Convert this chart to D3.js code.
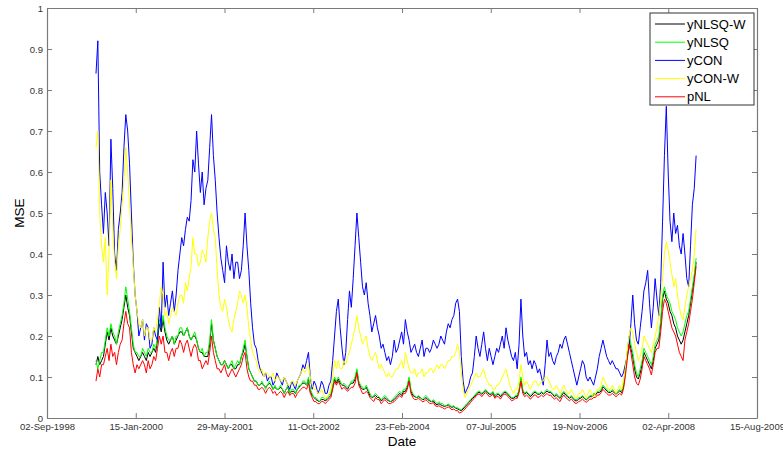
<!DOCTYPE html>
<html>
<head>
<meta charset="utf-8">
<script src="https://cdn.jsdelivr.net/npm/d3@7"></script>
<style>
  body { margin: 0; background: #fff; }
  text { font-family: "Liberation Sans", Arial, sans-serif; }
</style>
</head>
<body>
<svg id="chart" width="783" height="454"></svg>
<script>
// tick labels on the date axis, 500 days apart
const dateTicks = ['02-Sep-1998', '15-Jan-2000', '29-May-2001', '11-Oct-2002', '23-Feb-2004',
  '07-Jul-2005', '19-Nov-2006', '02-Apr-2008', '15-Aug-2009'];
const mseTicks = [0, 0.1, 0.2, 0.3, 0.4, 0.5, 0.6, 0.7, 0.8, 0.9, 1];

// samples every 10.5 days
const sampleStart = '1999-06-05';
const sampleStepHours = 252;

const yNLSQW = [
  0.13,0.15,0.13,0.14,0.15,0.18,0.21,0.19,0.22,0.20,0.19,0.18,0.20,0.22,0.24,0.27,0.30,0.27,0.25,0.21,
  0.17,0.16,0.15,0.14,0.15,0.16,0.15,0.14,0.16,0.15,0.16,0.17,0.16,0.19,0.23,0.21,0.24,0.21,0.19,0.18,
  0.19,0.20,0.18,0.19,0.20,0.21,0.21,0.20,0.21,0.22,0.20,0.19,0.20,0.20,0.19,0.17,0.16,0.16,0.15,0.15,
  0.15,0.18,0.23,0.19,0.17,0.15,0.14,0.13,0.13,0.14,0.13,0.12,0.13,0.13,0.12,0.12,0.13,0.13,0.15,0.16,
  0.18,0.15,0.12,0.11,0.10,0.09,0.09,0.08,0.08,0.085,0.08,0.075,0.08,0.085,0.08,0.07,0.075,0.07,0.07,0.075,
  0.07,0.06,0.07,0.075,0.06,0.065,0.065,0.06,0.07,0.075,0.08,0.085,0.085,0.08,0.095,0.065,0.055,0.05,0.045,0.042,
  0.04,0.045,0.045,0.042,0.045,0.05,0.055,0.075,0.095,0.085,0.095,0.085,0.08,0.08,0.075,0.07,0.08,0.085,0.085,0.095,
  0.115,0.085,0.075,0.07,0.07,0.075,0.065,0.055,0.05,0.052,0.055,0.05,0.05,0.042,0.045,0.05,0.045,0.042,0.04,0.042,
  0.045,0.05,0.055,0.06,0.055,0.065,0.065,0.075,0.095,0.065,0.055,0.052,0.05,0.052,0.05,0.045,0.045,0.05,0.045,0.042,
  0.04,0.042,0.035,0.032,0.035,0.032,0.03,0.028,0.03,0.032,0.028,0.026,0.028,0.024,0.022,0.02,0.018,0.022,0.028,0.032,
  0.038,0.042,0.048,0.052,0.058,0.062,0.062,0.058,0.062,0.066,0.062,0.058,0.058,0.062,0.052,0.056,0.058,0.052,0.058,0.062,
  0.062,0.058,0.052,0.048,0.048,0.052,0.052,0.066,0.095,0.066,0.058,0.062,0.058,0.052,0.056,0.062,0.062,0.058,0.058,0.062,
  0.058,0.062,0.066,0.062,0.062,0.058,0.052,0.056,0.052,0.048,0.056,0.062,0.056,0.052,0.048,0.052,0.048,0.042,0.042,0.046,
  0.048,0.052,0.048,0.044,0.048,0.052,0.052,0.056,0.056,0.062,0.062,0.066,0.076,0.072,0.066,0.062,0.062,0.066,0.062,0.058,
  0.062,0.066,0.062,0.076,0.115,0.15,0.19,0.17,0.15,0.12,0.10,0.095,0.11,0.13,0.16,0.15,0.14,0.13,0.12,0.14,
  0.17,0.18,0.19,0.23,0.29,0.31,0.29,0.28,0.26,0.25,0.23,0.22,0.20,0.19,0.18,0.19,0.21,0.23,0.25,0.28,
  0.31,0.34,0.38
];
const yNLSQ = [
  0.14,0.12,0.14,0.16,0.16,0.19,0.22,0.20,0.23,0.21,0.20,0.18,0.21,0.23,0.25,0.28,0.32,0.29,0.26,0.22,
  0.18,0.16,0.16,0.15,0.15,0.17,0.16,0.15,0.17,0.16,0.16,0.18,0.17,0.20,0.24,0.22,0.25,0.22,0.20,0.19,
  0.19,0.20,0.18,0.20,0.20,0.22,0.22,0.20,0.21,0.22,0.20,0.19,0.20,0.21,0.19,0.17,0.16,0.17,0.15,0.16,
  0.16,0.19,0.24,0.19,0.17,0.15,0.14,0.13,0.13,0.14,0.13,0.12,0.13,0.14,0.12,0.13,0.14,0.13,0.15,0.17,
  0.19,0.15,0.12,0.11,0.10,0.09,0.09,0.08,0.08,0.09,0.08,0.07,0.08,0.09,0.08,0.07,0.08,0.07,0.07,0.08,
  0.07,0.06,0.07,0.08,0.06,0.07,0.07,0.06,0.07,0.08,0.08,0.09,0.09,0.08,0.10,0.07,0.06,0.05,0.05,0.045,
  0.04,0.05,0.05,0.045,0.05,0.055,0.06,0.08,0.10,0.09,0.10,0.09,0.08,0.085,0.08,0.075,0.08,0.09,0.09,0.10,
  0.12,0.09,0.08,0.075,0.07,0.08,0.07,0.06,0.05,0.055,0.06,0.055,0.05,0.045,0.05,0.055,0.05,0.045,0.04,0.045,
  0.05,0.055,0.06,0.065,0.06,0.07,0.07,0.08,0.10,0.07,0.06,0.055,0.05,0.055,0.05,0.045,0.05,0.055,0.05,0.045,
  0.04,0.045,0.04,0.035,0.04,0.035,0.035,0.03,0.03,0.035,0.03,0.028,0.03,0.025,0.025,0.022,0.02,0.025,0.03,0.035,
  0.04,0.045,0.05,0.055,0.06,0.065,0.065,0.06,0.065,0.07,0.065,0.06,0.06,0.065,0.055,0.06,0.06,0.055,0.06,0.065,
  0.065,0.06,0.055,0.05,0.05,0.055,0.055,0.07,0.10,0.07,0.06,0.065,0.06,0.055,0.06,0.065,0.065,0.06,0.06,0.065,
  0.06,0.065,0.07,0.065,0.065,0.06,0.055,0.06,0.055,0.05,0.06,0.065,0.06,0.055,0.05,0.055,0.05,0.045,0.045,0.05,
  0.05,0.055,0.05,0.045,0.05,0.055,0.055,0.06,0.06,0.065,0.065,0.07,0.08,0.075,0.07,0.065,0.065,0.07,0.065,0.06,
  0.065,0.07,0.065,0.08,0.12,0.16,0.20,0.18,0.16,0.13,0.11,0.10,0.12,0.14,0.17,0.16,0.15,0.14,0.13,0.15,
  0.18,0.19,0.20,0.24,0.30,0.32,0.30,0.29,0.28,0.26,0.25,0.24,0.22,0.21,0.20,0.21,0.23,0.25,0.26,0.29,
  0.32,0.35,0.39
];
const yCON = [
  0.84,0.92,0.60,0.52,0.45,0.55,0.50,0.42,0.68,0.56,0.40,0.36,0.46,0.50,0.55,0.66,0.74,0.70,0.62,0.50,
  0.38,0.30,0.26,0.20,0.22,0.24,0.19,0.23,0.22,0.17,0.18,0.22,0.20,0.19,0.27,0.22,0.38,0.27,0.30,0.25,
  0.28,0.31,0.26,0.30,0.36,0.40,0.44,0.42,0.46,0.49,0.48,0.53,0.63,0.60,0.70,0.62,0.55,0.60,0.52,0.56,
  0.58,0.66,0.74,0.64,0.58,0.50,0.44,0.39,0.36,0.33,0.42,0.38,0.36,0.40,0.34,0.38,0.38,0.34,0.36,0.42,
  0.50,0.42,0.36,0.28,0.22,0.18,0.17,0.14,0.12,0.11,0.10,0.11,0.09,0.10,0.10,0.08,0.09,0.11,0.10,0.09,
  0.08,0.10,0.09,0.08,0.07,0.09,0.08,0.07,0.09,0.10,0.11,0.13,0.12,0.14,0.16,0.10,0.07,0.09,0.08,0.06,
  0.07,0.09,0.08,0.06,0.06,0.08,0.09,0.14,0.20,0.26,0.29,0.22,0.17,0.13,0.16,0.24,0.31,0.27,0.34,0.42,
  0.50,0.44,0.38,0.32,0.30,0.33,0.28,0.25,0.21,0.23,0.25,0.22,0.20,0.17,0.18,0.16,0.14,0.15,0.13,0.15,
  0.19,0.16,0.17,0.19,0.21,0.18,0.24,0.21,0.19,0.16,0.17,0.18,0.16,0.15,0.17,0.19,0.15,0.17,0.17,0.16,
  0.17,0.19,0.18,0.17,0.18,0.20,0.19,0.18,0.21,0.23,0.22,0.24,0.25,0.28,0.29,0.26,0.15,0.09,0.06,0.07,
  0.08,0.10,0.11,0.15,0.20,0.17,0.15,0.18,0.21,0.17,0.14,0.17,0.15,0.13,0.15,0.17,0.16,0.18,0.20,0.17,
  0.22,0.19,0.17,0.15,0.14,0.16,0.12,0.18,0.29,0.20,0.15,0.16,0.13,0.14,0.12,0.14,0.13,0.11,0.12,0.10,
  0.08,0.13,0.19,0.15,0.16,0.14,0.13,0.15,0.16,0.18,0.17,0.19,0.20,0.18,0.16,0.14,0.12,0.10,0.08,0.10,
  0.12,0.14,0.13,0.10,0.09,0.10,0.09,0.08,0.10,0.12,0.15,0.17,0.19,0.17,0.15,0.14,0.13,0.14,0.13,0.12,
  0.12,0.11,0.10,0.11,0.13,0.15,0.17,0.23,0.30,0.23,0.19,0.18,0.22,0.26,0.31,0.33,0.36,0.28,0.22,0.27,
  0.34,0.29,0.25,0.33,0.48,0.64,0.76,0.60,0.48,0.43,0.50,0.45,0.47,0.42,0.40,0.45,0.40,0.34,0.32,0.42,
  0.52,0.56,0.64
];
const yCONW = [
  0.66,0.70,0.50,0.42,0.38,0.44,0.30,0.40,0.58,0.46,0.38,0.34,0.42,0.46,0.52,0.58,0.66,0.60,0.52,0.44,
  0.37,0.30,0.26,0.23,0.22,0.24,0.20,0.22,0.22,0.19,0.19,0.22,0.21,0.24,0.28,0.32,0.30,0.25,0.26,0.23,
  0.25,0.27,0.26,0.25,0.28,0.30,0.30,0.28,0.33,0.31,0.34,0.37,0.44,0.40,0.40,0.37,0.38,0.41,0.40,0.38,
  0.44,0.48,0.50,0.46,0.44,0.36,0.30,0.27,0.26,0.29,0.27,0.24,0.22,0.21,0.24,0.26,0.28,0.31,0.30,0.28,
  0.30,0.27,0.22,0.19,0.16,0.15,0.14,0.12,0.11,0.12,0.10,0.11,0.11,0.10,0.10,0.11,0.09,0.10,0.10,0.09,
  0.09,0.10,0.09,0.08,0.08,0.09,0.09,0.08,0.09,0.10,0.11,0.12,0.11,0.12,0.13,0.10,0.08,0.07,0.07,0.06,
  0.06,0.07,0.06,0.05,0.05,0.06,0.07,0.10,0.14,0.12,0.14,0.12,0.12,0.14,0.13,0.15,0.16,0.18,0.20,0.22,
  0.25,0.22,0.20,0.18,0.19,0.20,0.17,0.15,0.14,0.15,0.16,0.14,0.12,0.13,0.12,0.11,0.10,0.11,0.10,0.10,
  0.11,0.12,0.12,0.13,0.14,0.12,0.16,0.14,0.12,0.11,0.11,0.12,0.10,0.11,0.11,0.12,0.10,0.11,0.11,0.12,
  0.12,0.11,0.12,0.13,0.12,0.13,0.13,0.12,0.13,0.14,0.14,0.15,0.15,0.16,0.18,0.16,0.11,0.07,0.05,0.06,
  0.07,0.08,0.09,0.10,0.11,0.10,0.10,0.11,0.12,0.10,0.09,0.08,0.08,0.07,0.07,0.08,0.08,0.09,0.10,0.11,
  0.12,0.10,0.08,0.07,0.06,0.07,0.07,0.09,0.13,0.10,0.08,0.09,0.08,0.07,0.08,0.09,0.09,0.08,0.08,0.09,
  0.09,0.10,0.10,0.09,0.08,0.07,0.07,0.08,0.07,0.06,0.07,0.08,0.07,0.06,0.06,0.07,0.06,0.05,0.05,0.06,
  0.06,0.07,0.06,0.05,0.06,0.07,0.06,0.05,0.06,0.07,0.07,0.08,0.10,0.09,0.08,0.07,0.07,0.08,0.07,0.06,
  0.07,0.08,0.07,0.09,0.12,0.16,0.20,0.22,0.21,0.18,0.16,0.14,0.15,0.17,0.20,0.19,0.18,0.17,0.16,0.18,
  0.20,0.22,0.25,0.29,0.34,0.40,0.43,0.41,0.38,0.35,0.32,0.34,0.30,0.27,0.25,0.24,0.27,0.30,0.32,0.34,
  0.36,0.40,0.46
];
const pNL = [
  0.09,0.12,0.10,0.13,0.13,0.15,0.17,0.14,0.18,0.15,0.16,0.13,0.16,0.18,0.19,0.23,0.26,0.23,0.22,0.16,
  0.13,0.11,0.13,0.12,0.13,0.14,0.13,0.11,0.14,0.12,0.13,0.15,0.14,0.17,0.20,0.18,0.20,0.16,0.16,0.14,
  0.16,0.17,0.15,0.17,0.17,0.19,0.18,0.16,0.18,0.19,0.17,0.15,0.17,0.18,0.17,0.14,0.14,0.12,0.13,0.14,
  0.13,0.16,0.20,0.16,0.14,0.12,0.12,0.11,0.12,0.13,0.11,0.10,0.11,0.12,0.11,0.10,0.11,0.12,0.13,0.15,
  0.16,0.12,0.10,0.09,0.09,0.08,0.08,0.07,0.07,0.075,0.07,0.06,0.07,0.075,0.07,0.06,0.065,0.055,0.06,0.065,
  0.06,0.05,0.06,0.065,0.055,0.06,0.06,0.05,0.06,0.065,0.07,0.075,0.075,0.07,0.085,0.06,0.05,0.04,0.04,0.035,
  0.035,0.04,0.04,0.035,0.04,0.045,0.05,0.07,0.09,0.08,0.09,0.08,0.07,0.075,0.07,0.065,0.07,0.075,0.075,0.085,
  0.11,0.08,0.07,0.06,0.06,0.065,0.06,0.05,0.045,0.04,0.05,0.045,0.045,0.035,0.04,0.045,0.04,0.035,0.035,0.038,
  0.04,0.045,0.05,0.055,0.05,0.06,0.06,0.07,0.09,0.06,0.05,0.045,0.045,0.048,0.045,0.04,0.04,0.045,0.04,0.036,
  0.035,0.038,0.03,0.028,0.03,0.027,0.025,0.022,0.025,0.027,0.024,0.02,0.022,0.018,0.018,0.012,0.014,0.018,0.022,0.028,
  0.032,0.038,0.044,0.048,0.054,0.058,0.058,0.052,0.058,0.062,0.058,0.052,0.054,0.058,0.048,0.052,0.052,0.046,0.054,0.058,
  0.058,0.052,0.048,0.042,0.044,0.048,0.048,0.062,0.09,0.06,0.052,0.056,0.052,0.046,0.05,0.056,0.056,0.05,0.052,0.056,
  0.052,0.056,0.06,0.055,0.056,0.05,0.046,0.05,0.044,0.04,0.05,0.056,0.05,0.046,0.042,0.046,0.042,0.036,0.036,0.04,
  0.042,0.046,0.042,0.038,0.042,0.046,0.046,0.05,0.05,0.056,0.056,0.062,0.07,0.065,0.06,0.056,0.056,0.06,0.056,0.052,
  0.056,0.06,0.056,0.07,0.10,0.14,0.18,0.16,0.13,0.10,0.085,0.08,0.095,0.12,0.15,0.14,0.13,0.12,0.105,0.13,
  0.16,0.17,0.17,0.21,0.26,0.29,0.28,0.26,0.24,0.22,0.21,0.20,0.18,0.16,0.15,0.14,0.19,0.21,0.23,0.26,
  0.29,0.33,0.37
];

const seriesNames = ['yNLSQ-W', 'yNLSQ', 'yCON', 'yCON-W', 'pNL'];
const seriesColors = ['#000000', '#00ff00', '#0000ff', '#ffff00', '#ff0000'];
const seriesValues = [yNLSQW, yNLSQ, yCON, yCONW, pNL];

const width = 783, height = 454;
const margin = { top: 8, right: 26, bottom: 36, left: 47 };
const axisColor = '#7a7a7a';

const parseTick = d3.utcParse('%d-%b-%Y');
const tickDates = dateTicks.map(parseTick);
const start = d3.utcParse('%Y-%m-%d')(sampleStart);
const dates = yCON.map((_, i) => d3.utcHour.offset(start, i * sampleStepHours));

const x = d3.scaleUtc()
  .domain([tickDates[0], tickDates[tickDates.length - 1]])
  .range([margin.left, width - margin.right]);
const y = d3.scaleLinear()
  .domain([0, 1])
  .range([height - margin.bottom, margin.top]);

const svg = d3.select('#chart');
svg.append('rect').attr('width', width).attr('height', height).attr('fill', '#fff');

const line = d3.line()
  .x((d, i) => x(dates[i]))
  .y(d => y(d));

svg.append('g')
  .selectAll('path')
  .data(seriesValues)
  .join('path')
  .attr('fill', 'none')
  .attr('stroke', (d, i) => seriesColors[i])
  .attr('stroke-width', 1)
  .attr('stroke-linejoin', 'round')
  .attr('d', line);

// axes, MATLAB style: ticks pointing inward on all four sides
function styleAxis(g) {
  g.selectAll('.domain').attr('stroke', axisColor).attr('stroke-width', 1.2);
  g.selectAll('.tick line').attr('stroke', axisColor);
  g.selectAll('.tick text').attr('fill', '#333').attr('font-size', 9.5);
}

const fmtTick = d3.utcFormat('%d-%b-%Y');
svg.append('g')
  .attr('transform', `translate(0,${height - margin.bottom})`)
  .call(d3.axisBottom(x).tickValues(tickDates).tickFormat(fmtTick)
    .tickSizeInner(-5).tickSizeOuter(0).tickPadding(5))
  .call(styleAxis);
svg.append('g')
  .attr('transform', `translate(0,${margin.top})`)
  .call(d3.axisTop(x).tickValues(tickDates).tickFormat('')
    .tickSizeInner(-5).tickSizeOuter(0))
  .call(styleAxis);
svg.append('g')
  .attr('transform', `translate(${margin.left},0)`)
  .call(d3.axisLeft(y).tickValues(mseTicks).tickFormat(d3.format('~g'))
    .tickSizeInner(-5).tickSizeOuter(0).tickPadding(4))
  .call(styleAxis);
svg.append('g')
  .attr('transform', `translate(${width - margin.right},0)`)
  .call(d3.axisRight(y).tickValues(mseTicks).tickFormat('')
    .tickSizeInner(-5).tickSizeOuter(0))
  .call(styleAxis);

svg.append('text')
  .attr('x', (margin.left + width - margin.right) / 2)
  .attr('y', 446)
  .attr('text-anchor', 'middle')
  .attr('font-size', 13.5)
  .text('Date');

svg.append('text')
  .attr('transform', `translate(24,${(margin.top + height - margin.bottom) / 2}) rotate(-90)`)
  .attr('text-anchor', 'middle')
  .attr('font-size', 13.5)
  .text('MSE');

// legend
const legend = svg.append('g').attr('transform', 'translate(650,13)');
legend.append('rect')
  .attr('width', 104).attr('height', 92)
  .attr('fill', '#fff').attr('stroke', '#333').attr('stroke-width', 1);
const rows = legend.selectAll('g.row')
  .data(seriesNames)
  .join('g')
  .attr('class', 'row')
  .attr('transform', (d, i) => `translate(0,${11 + i * 18.2})`);
rows.append('line')
  .attr('x1', 5).attr('x2', 35)
  .attr('stroke', (d, i) => seriesColors[i]);
rows.append('text')
  .attr('x', 37).attr('dy', '0.36em')
  .attr('font-size', 13)
  .text(d => d);
</script>
</body>
</html>
